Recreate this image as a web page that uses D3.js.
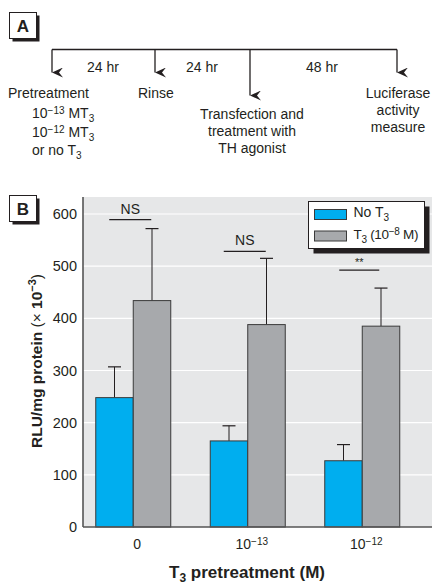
<!DOCTYPE html>
<html>
<head>
<meta charset="utf-8">
<script src="https://cdn.jsdelivr.net/npm/d3@7"></script>
<style>
  html, body { margin: 0; padding: 0; background: #fff; }
  svg { display: block; }
  text { font-family: 'Liberation Sans', Arial, sans-serif; fill: #231f20; }
</style>
</head>
<body>
<svg id="fig" width="432" height="586"></svg>
<script>
// ---- Data (panel B) ----
const categories = ["0", "1e-13", "1e-12"];
const seriesNames = ["No T3", "T3 (10-8 M)"];
const noT3Means = [248, 165, 127];
const noT3Err = [59, 29, 31];
const t3Means = [434, 388, 385];
const t3Err = [138, 127, 73];
const yTicks = [0, 100, 200, 300, 400, 500, 600];
const significance = ["NS", "NS", "**"];

// ---- Timeline (panel A) ----
const steps = [
  { x: 52, drop: 26 },
  { x: 155, drop: 26 },
  { x: 250, drop: 49 },
  { x: 397, drop: 26 }
];
const intervals = ["24 hr", "24 hr", "48 hr"];

const svg = d3.select("#fig");
const ink = "#231f20";

// Writes runs of text with sub/superscripts; each run is [text, "n"|"sub"|"sup", extraAttrs]
function rich(textSel, runs, small) {
  let prev = 0;
  runs.forEach(([s, kind, extra]) => {
    const off = kind === "sub" ? 4 : kind === "sup" ? (extra && extra.up ? -extra.up : -4) : 0;
    const ts = textSel.append("tspan").attr("dy", off - prev).text(s);
    if (kind !== "n") ts.attr("font-size", small);
    if (extra && extra.weight) ts.attr("font-weight", extra.weight);
    prev = off;
  });
  return textSel;
}

// arrowhead marker
const defs = svg.append("defs");
defs.append("marker")
  .attr("id", "arrow").attr("viewBox", "0 0 10 11")
  .attr("refX", 5).attr("refY", 11)
  .attr("markerWidth", 10).attr("markerHeight", 11)
  .attr("markerUnits", "userSpaceOnUse")
  .attr("orient", "auto-start-reverse")
  .append("path").attr("d", "M0,0 L5,4 L10,0 L5,11 Z")
  .attr("fill", ink);

// panel letter boxes with drop shadows
function panelTag(x, y, letter) {
  const g = svg.append("g");
  g.append("rect").attr("x", x + 3).attr("y", y + 3).attr("width", 27).attr("height", 26).attr("fill", ink);
  g.append("rect").attr("x", x).attr("y", y).attr("width", 27).attr("height", 26)
    .attr("fill", "#fff").attr("stroke", ink).attr("stroke-width", 1);
  g.append("text").attr("x", x + 13.5).attr("y", y + 19.5).attr("text-anchor", "middle")
    .attr("font-size", 17).attr("font-weight", "bold").text(letter);
}
panelTag(9.5, 12.5, "A");

// ---- Panel A timeline ----
const lineY = 49.5;
svg.append("line").attr("x1", steps[0].x).attr("x2", steps[3].x)
  .attr("y1", lineY).attr("y2", lineY).attr("stroke", ink).attr("stroke-width", 1.3);
steps.forEach(s => {
  svg.append("line").attr("x1", s.x).attr("x2", s.x)
    .attr("y1", lineY).attr("y2", lineY + s.drop - 3)
    .attr("stroke", ink).attr("stroke-width", 1.3)
    .attr("marker-end", "url(#arrow)");
});
const intervalX = [103, 202, 322];
intervals.forEach((t, i) => {
  svg.append("text").attr("x", intervalX[i]).attr("y", 72).attr("text-anchor", "middle")
    .attr("font-size", 14).text(t);
});

const fsA = 14;
svg.append("text").attr("x", 8).attr("y", 98).attr("font-size", fsA).text("Pretreatment");
rich(svg.append("text").attr("x", 32).attr("y", 118).attr("font-size", fsA),
  [["10", "n"], ["\u221213", "sup"], [" MT", "n"], ["3", "sub"]], 10);
rich(svg.append("text").attr("x", 32).attr("y", 137).attr("font-size", fsA),
  [["10", "n"], ["\u221212", "sup"], [" MT", "n"], ["3", "sub"]], 10);
rich(svg.append("text").attr("x", 32).attr("y", 155).attr("font-size", fsA),
  [["or no T", "n"], ["3", "sub"]], 10);

svg.append("text").attr("x", 138).attr("y", 98).attr("font-size", fsA).text("Rinse");

["Transfection and", "treatment with", "TH agonist"].forEach((s, i) => {
  svg.append("text").attr("x", 252).attr("y", 119 + i * 17).attr("text-anchor", "middle")
    .attr("font-size", fsA).text(s);
});
["Luciferase", "activity", "measure"].forEach((s, i) => {
  svg.append("text").attr("x", 398).attr("y", 98 + i * 17).attr("text-anchor", "middle")
    .attr("font-size", fsA).text(s);
});

// ---- Panel B bar chart ----
panelTag(9.5, 195.5, "B");

const plot = { left: 83, right: 432, top: 197, bottom: 527 };
const y = d3.scaleLinear().domain([0, 600]).range([527, 214]);
const x0 = d3.scaleBand().domain(categories).range([76, 419.5]).padding(0);
const x1 = d3.scaleBand().domain(seriesNames).range([0, 75]).padding(0);
const barOffset = x0.bandwidth() / 2 - 37.5;

svg.append("rect").attr("x", plot.left).attr("y", plot.top)
  .attr("width", plot.right - plot.left).attr("height", plot.bottom - plot.top)
  .attr("fill", "#e6e7e8");

svg.append("g").selectAll("line").data(yTicks.filter(d => d > 0)).join("line")
  .attr("x1", plot.left).attr("x2", plot.right)
  .attr("y1", d => y(d)).attr("y2", d => y(d))
  .attr("stroke", "#fff").attr("stroke-width", 1.2);

// y axis
const yAxis = svg.append("g").attr("transform", `translate(${plot.left},0)`)
  .call(d3.axisLeft(y).tickValues(yTicks).tickSize(0).tickPadding(6).tickFormat(d3.format("d")));
yAxis.select(".domain").remove();
yAxis.selectAll("text").attr("font-size", 14.5).attr("fill", ink)
  .attr("font-family", "'Liberation Sans', Arial, sans-serif");

const rows = categories.map((c, i) => ({
  cat: c,
  vals: [
    { s: seriesNames[0], v: noT3Means[i], e: noT3Err[i], color: "#00aeef" },
    { s: seriesNames[1], v: t3Means[i], e: t3Err[i], color: "#a7a9ac" }
  ]
}));

const groups = svg.append("g").selectAll("g").data(rows).join("g")
  .attr("transform", d => `translate(${x0(d.cat) + barOffset},0)`);

// error bars (upper only)
groups.selectAll("g.err").data(d => d.vals).join("g").attr("class", "err")
  .each(function(d) {
    const cx = x1(d.s) + x1.bandwidth() / 2;
    const g = d3.select(this);
    g.append("line").attr("x1", cx).attr("x2", cx).attr("y1", y(d.v)).attr("y2", y(d.v + d.e))
      .attr("stroke", ink).attr("stroke-width", 1);
    g.append("line").attr("x1", cx - 6.5).attr("x2", cx + 6.5).attr("y1", y(d.v + d.e)).attr("y2", y(d.v + d.e))
      .attr("stroke", ink).attr("stroke-width", 1.2);
  });

groups.selectAll("rect").data(d => d.vals).join("rect")
  .attr("x", d => x1(d.s)).attr("width", x1.bandwidth())
  .attr("y", d => y(d.v)).attr("height", d => y(0) - y(d.v))
  .attr("fill", d => d.color).attr("stroke", "#3a3a3a").attr("stroke-width", 1);

// axis lines
svg.append("line").attr("x1", plot.left).attr("x2", plot.left).attr("y1", plot.top).attr("y2", plot.bottom)
  .attr("stroke", "#555").attr("stroke-width", 1.6);
svg.append("line").attr("x1", plot.left).attr("x2", plot.right).attr("y1", plot.bottom).attr("y2", plot.bottom)
  .attr("stroke", "#555").attr("stroke-width", 1.6);

// significance markers
const sigY = [y(t3Means[0] + t3Err[0]) - 9, y(t3Means[1] + t3Err[1]) - 7, y(t3Means[2] + t3Err[2]) - 18];
rows.forEach((r, i) => {
  const cx = x0(r.cat) + x0.bandwidth() / 2;
  const half = i === 2 ? 20 : 21;
  svg.append("line").attr("x1", cx - half - 3).attr("x2", cx + half - 3)
    .attr("y1", sigY[i]).attr("y2", sigY[i]).attr("stroke", ink).attr("stroke-width", 1.2);
  svg.append("text").attr("x", cx - 3).attr("y", i === 2 ? sigY[i] - 4 : sigY[i] - 6)
    .attr("text-anchor", "middle")
    .attr("font-size", i === 2 ? 11 : 14)
    .attr("fill", i === 2 ? "#777" : ink)
    .text(significance[i]);
});

// x tick labels
const xLab = svg.append("g");
rows.forEach((r, i) => {
  const cx = x0(r.cat) + x0.bandwidth() / 2 + 4;
  const tx = xLab.append("text").attr("x", cx).attr("y", 549).attr("text-anchor", "middle").attr("font-size", 14);
  if (i === 0) tx.text("0");
  else rich(tx, [["10", "n"], [i === 1 ? "\u221213" : "\u221212", "sup"]], 10);
});

// x title
rich(svg.append("text").attr("x", 247).attr("y", 578).attr("text-anchor", "middle")
  .attr("font-size", 17).attr("font-weight", "bold"),
  [["T", "n"], ["3", "sub"], [" pretreatment (M)", "n"]], 12);

// y title
rich(svg.append("text").attr("transform", "translate(42,361) rotate(-90)")
  .attr("text-anchor", "middle").attr("font-size", 15.5).attr("font-weight", "bold"),
  [["RLU/mg protein ", "n"], ["(\u00d7 ", "n", { weight: "normal" }], ["10", "n"],
   ["\u22123", "sup", { up: 6 }], [")", "n", { weight: "normal" }]], 11);

// legend
const lg = svg.append("g").attr("transform", "translate(308.5,201.5)");
lg.append("rect").attr("x", 5).attr("y", 5).attr("width", 116).attr("height", 47).attr("fill", ink);
lg.append("rect").attr("width", 116).attr("height", 47).attr("fill", "#fff").attr("stroke", ink).attr("stroke-width", 1);
const legendColors = ["#00aeef", "#a7a9ac"];
seriesNames.forEach((s, i) => {
  lg.append("rect").attr("x", 6).attr("y", 8 + i * 21.5).attr("width", 32).attr("height", 10)
    .attr("fill", legendColors[i]).attr("stroke", "#3a3a3a").attr("stroke-width", 1);
});
rich(lg.append("text").attr("x", 45).attr("y", 15).attr("font-size", 14),
  [["No T", "n"], ["3", "sub"]], 10);
rich(lg.append("text").attr("x", 45).attr("y", 37.5).attr("font-size", 13.5).attr("letter-spacing", -0.3),
  [["T", "n"], ["3", "sub"], [" (10", "n"], ["\u22128", "sup"], [" M)", "n"]], 10);
</script>
</body>
</html>
